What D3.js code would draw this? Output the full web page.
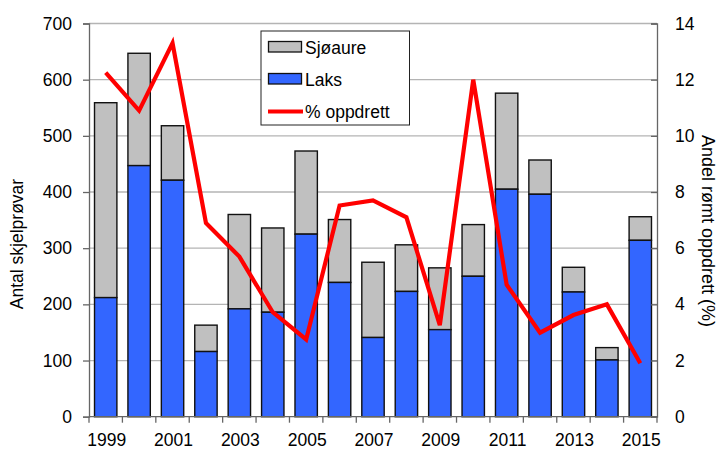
<!DOCTYPE html>
<html>
<head>
<meta charset="utf-8">
<script src="https://cdn.jsdelivr.net/npm/d3@7"></script>
<style>
  body { margin: 0; background: #fff; }
  svg text { font-family: "Liberation Sans", Arial, sans-serif; fill: #000; }
</style>
</head>
<body>
<script>
var years = [1999, 2000, 2001, 2002, 2003, 2004, 2005, 2006, 2007, 2008, 2009, 2010, 2011, 2012, 2013, 2014, 2015];
var laks = [212, 447, 421, 116, 192, 186, 325, 239, 141, 223, 155, 250, 405, 396, 222, 101, 314];
var sjoaure = [347, 200, 97, 47, 168, 150, 148, 112, 134, 83, 110, 92, 171, 61, 44, 22, 42];
var oppdrett = [12.25, 10.9, 13.3, 6.9, 5.7, 3.72, 2.75, 7.52, 7.7, 7.1, 3.26, 12.0, 4.7, 2.99, 3.62, 4.0, 1.9];
var leftTicks = [0, 100, 200, 300, 400, 500, 600, 700];
var rightTicks = [0, 2, 4, 6, 8, 10, 12, 14];

var width = 720, height = 449;
var margin = { top: 23.5, right: 63, bottom: 32.3, left: 89 };
var innerW = width - margin.left - margin.right,
    innerH = height - margin.top - margin.bottom;

var svg = d3.select("body").append("svg")
    .attr("width", width)
    .attr("height", height);

var g = svg.append("g")
    .attr("transform", "translate(" + margin.left + "," + margin.top + ")");

var x = d3.scaleBand().domain(years).range([0, innerW]).paddingInner(0.33).paddingOuter(0.165);
var xCat = d3.scaleBand().domain(years).range([0, innerW]);
var y = d3.scaleLinear().domain([0, 700]).range([innerH, 0]);
var y2 = d3.scaleLinear().domain([0, 14]).range([innerH, 0]);

// grid
g.append("g").selectAll("line")
    .data(leftTicks.slice(1))
    .enter().append("line")
    .attr("x1", 0).attr("x2", innerW)
    .attr("y1", function (d) { return y(d); })
    .attr("y2", function (d) { return y(d); })
    .style("stroke", "#b4b4b4")
    .style("stroke-width", 1.3);

// stacked bars
var stacked = years.map(function (yr, i) {
    return { year: yr, laks: laks[i], sjo: sjoaure[i] };
});

g.append("g").selectAll("rect")
    .data(stacked)
    .enter().append("rect")
    .attr("x", function (d) { return x(d.year); })
    .attr("width", x.bandwidth())
    .attr("y", function (d) { return y(d.laks + d.sjo); })
    .attr("height", function (d) { return y(d.laks) - y(d.laks + d.sjo); })
    .style("fill", "#c0c0c0")
    .style("stroke", "#111")
    .style("stroke-width", 1.4);

g.append("g").selectAll("rect")
    .data(stacked)
    .enter().append("rect")
    .attr("x", function (d) { return x(d.year); })
    .attr("width", x.bandwidth())
    .attr("y", function (d) { return y(d.laks); })
    .attr("height", function (d) { return innerH - y(d.laks); })
    .style("fill", "#3366ff")
    .style("stroke", "#111")
    .style("stroke-width", 1.4);

// line
var line = d3.line()
    .x(function (d, i) { return xCat(years[i]) + xCat.bandwidth() / 2; })
    .y(function (d) { return y2(d); });

g.append("path")
    .datum(oppdrett)
    .attr("d", line)
    .style("fill", "none")
    .style("stroke", "#ff0000")
    .style("stroke-width", 4.2)
    .style("stroke-linejoin", "miter");

// axes
var axisColor = "#666";

var leftAxis = g.append("g")
    .call(d3.axisLeft(y).tickValues(leftTicks).tickSize(6).tickPadding(11));
var rightAxis = g.append("g")
    .attr("transform", "translate(" + innerW + ",0)")
    .call(d3.axisRight(y2).tickValues(rightTicks).tickSize(-6).tickPadding(18));
var bottomAxis = g.append("g")
    .attr("transform", "translate(0," + innerH + ")");

bottomAxis.append("line")
    .attr("x1", 0).attr("x2", innerW)
    .style("stroke", axisColor).style("stroke-width", 1.3);

bottomAxis.selectAll("line.tick")
    .data(years.concat([null]))
    .enter().append("line")
    .attr("class", "tick")
    .attr("x1", function (d, i) { return i * xCat.step(); })
    .attr("x2", function (d, i) { return i * xCat.step(); })
    .attr("y1", 0).attr("y2", 6)
    .style("stroke", axisColor).style("stroke-width", 1.3);

bottomAxis.selectAll("text")
    .data(years.filter(function (d) { return d % 2 === 1; }))
    .enter().append("text")
    .attr("x", function (d) { return xCat(d) + xCat.bandwidth() / 2 + 1; })
    .attr("y", 29.5)
    .attr("text-anchor", "middle")
    .style("font-size", "17.5px")
    .text(function (d) { return d; });

[leftAxis, rightAxis].forEach(function (a) {
    a.select(".domain").style("stroke", axisColor).style("stroke-width", 1.3);
    a.selectAll(".tick line").style("stroke", axisColor).style("stroke-width", 1.3);
    a.selectAll(".tick text")
        .style("font-size", "17.5px")
        .style("font-family", "'Liberation Sans', Arial, sans-serif")
        .attr("fill", "#000");
});

// axis titles
svg.append("text")
    .attr("transform", "translate(23,244) rotate(-90)")
    .attr("text-anchor", "middle")
    .style("font-size", "17.5px")
    .text("Antal skjelprøvar");

svg.append("text")
    .attr("transform", "translate(702,231) rotate(90)")
    .attr("text-anchor", "middle")
    .style("font-size", "18px")
    .text("Andel rømt oppdrett (%)");

// legend
var legend = svg.append("g").attr("transform", "translate(261,31)");
legend.append("rect")
    .attr("width", 148.5).attr("height", 94)
    .style("fill", "#fff").style("stroke", "#222").style("stroke-width", 1);

var items = [
    { label: "Sjøaure", type: "rect", color: "#c0c0c0" },
    { label: "Laks", type: "rect", color: "#3366ff" },
    { label: "% oppdrett", type: "line", color: "#ff0000" }
];

items.forEach(function (d, i) {
    var cy = 16 + i * 32;
    if (d.type === "rect") {
        legend.append("rect")
            .attr("x", 7.5).attr("y", cy - 5.5)
            .attr("width", 33).attr("height", 10.5)
            .style("fill", d.color).style("stroke", "#111").style("stroke-width", 1.3);
    } else {
        legend.append("line")
            .attr("x1", 7).attr("x2", 42)
            .attr("y1", cy + 0.5).attr("y2", cy + 0.5)
            .style("stroke", d.color).style("stroke-width", 4.2);
    }
    legend.append("text")
        .attr("x", 44).attr("y", cy + 6.5)
        .style("font-size", "17.5px")
        .text(d.label);
});
</script>
</body>
</html>
